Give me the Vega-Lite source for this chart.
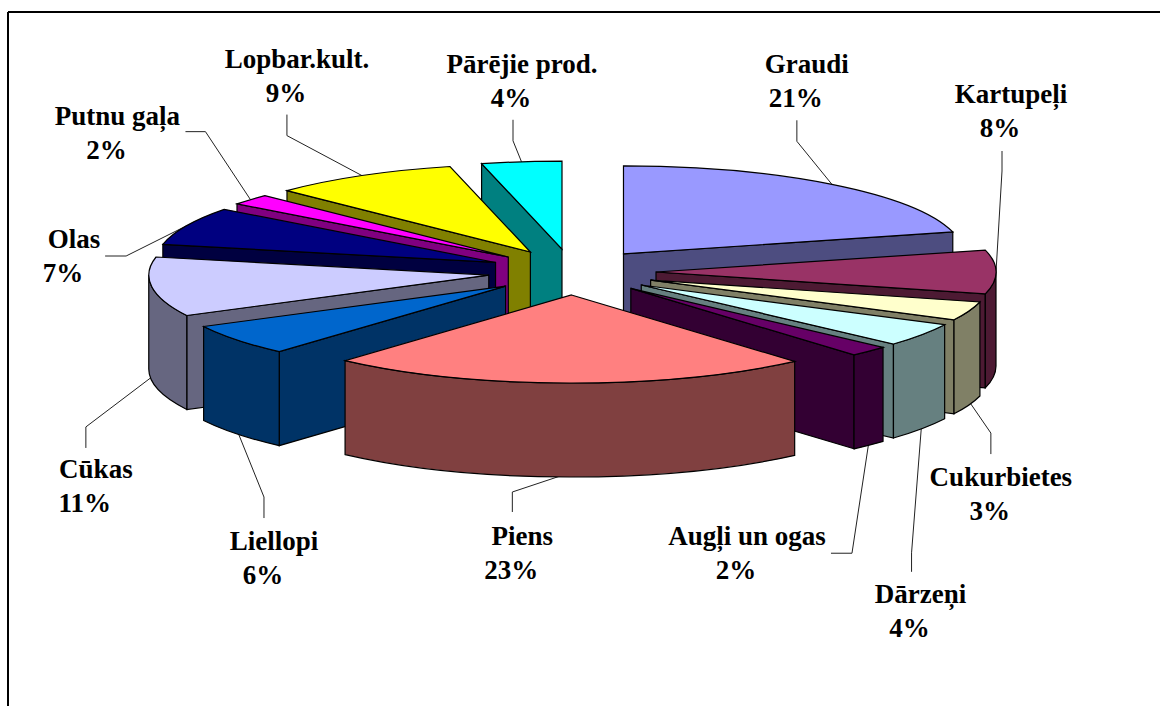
{
"$schema":"https://vega.github.io/schema/vega-lite/v6.json",
"width":1160,"height":706,"padding":0,"autosize":{"type":"none"},
"background":"white",
"view":{"stroke":null},
"data":{"values":[
{"name":"Graudi","value":21},
{"name":"Kartupeļi","value":8},
{"name":"Cukurbietes","value":3.45},
{"name":"Dārzeņi","value":4.25},
{"name":"Augļi un ogas","value":1.9},
{"name":"Piens","value":23},
{"name":"Liellopi","value":5.8},
{"name":"Cūkas","value":10.9},
{"name":"Olas","value":7},
{"name":"Putnu gaļa","value":2},
{"name":"Lopbar.kult.","value":8.9},
{"name":"Pārējie prod.","value":3.8}
]},
"transform":[
{"stack":"value","groupby":[],"as":["v0","v1"]},
{"calculate":"datum.v0/100*2*PI","as":"a0"},
{"calculate":"datum.v1/100*2*PI","as":"a1"},
{"calculate":"(datum.a0+datum.a1)/2","as":"mid"},
{"calculate":"max(datum.a0,PI/2)","as":"b0"},
{"calculate":"min(datum.a1,3*PI/2)","as":"b1"},
{"calculate":"572+84*sin(datum.mid)","as":"px"},
{"calculate":"272-23*cos(datum.mid)","as":"py"},
{"calculate":"round(3400*sin(datum.a0))/10","as":"sx0"},
{"calculate":"round(-880*cos(datum.a0))/10","as":"sy0"},
{"calculate":"round(3400*sin(datum.a1))/10","as":"sx1"},
{"calculate":"round(-880*cos(datum.a1))/10","as":"sy1"},
{"calculate":"round(3400*sin(datum.b0))/10","as":"bx0"},
{"calculate":"round(-880*cos(datum.b0))/10","as":"by0"},
{"calculate":"round(3400*sin(datum.b1))/10","as":"bx1"},
{"calculate":"round(-880*cos(datum.b1))/10","as":"by1"},
{"calculate":"'M0 0L'+datum.sx0+' '+datum.sy0+'A340 88 0 0 1 '+datum.sx1+' '+datum.sy1+'Z'","as":"pTop"},
{"calculate":"'M0 0L'+datum.sx0+' '+datum.sy0+'L'+datum.sx0+' '+(datum.sy0+94)+'L0 94Z'","as":"pRad0"},
{"calculate":"'M0 0L'+datum.sx1+' '+datum.sy1+'L'+datum.sx1+' '+(datum.sy1+94)+'L0 94Z'","as":"pRad1"},
{"calculate":"'M'+datum.bx0+' '+datum.by0+'A340 88 0 0 1 '+datum.bx1+' '+datum.by1+'L'+datum.bx1+' '+(datum.by1+94)+'A340 88 0 0 0 '+datum.bx0+' '+(datum.by0+94)+'Z'","as":"pBand"},
{"calculate":"572+424*sin(datum.mid)","as":"ax"},
{"calculate":"272-111*cos(datum.mid)+(cos(datum.mid)<-0.001?90:0)","as":"ay"},
{"calculate":"{'Graudi':[-35,-43,-35,-64,-25,-111],'Kartupeļi':[6,-101,6,-121,15,-169],'Cukurbietes':[22,32,22,53,32,85],'Dārzeņi':[-10,128,-10,147,-1,178],'Augļi un ogas':[-17,112,-38,112,-122,104],'Piens':[-57,19,-57,39,-47,72],'Liellopi':[27,67,27,88,37,120],'Cūkas':[-66,50,-66,71,-56,101],'Olas':[-60,30,-81,30,-112,22],'Putnu gaļa':[-45,-68,-65,-68,-133,-75],'Lopbar.kult.':[-75,-40,-75,-61,-65,-108],'Pārējie prod.':[-8.5,-21,-8.5,-42,0.5,-89]}[datum.name]","as":"lay"},
{"calculate":"datum.ax+datum.lay[0]","as":"ex"},
{"calculate":"datum.ay+datum.lay[1]","as":"ey"},
{"calculate":"datum.ax+datum.lay[2]","as":"tx"},
{"calculate":"datum.ay+datum.lay[3]","as":"ty"},
{"calculate":"datum.ax+datum.lay[4]","as":"lx"},
{"calculate":"datum.ay+datum.lay[5]","as":"ly"},
{"calculate":"datum.lx-11","as":"pctx"},
{"calculate":"datum.ly+34","as":"pcty"},
{"calculate":"round(datum.value)+'%'","as":"pct"}
],
"layer":[
{"mark":{"type":"rule","color":"black","strokeWidth":2},
 "data":{"values":[{"x":8,"y":12,"x2":8,"y2":706},{"x":8,"y":12,"x2":1160,"y2":12}]},
 "transform":[],
 "encoding":{"x":{"field":"x","type":"quantitative","scale":{"domain":[0,1160],"range":[0,1160],"nice":false,"zero":false},"axis":null},
 "y":{"field":"y","type":"quantitative","scale":{"domain":[0,706],"range":[0,706],"nice":false,"zero":false},"axis":null},
 "x2":{"field":"x2"},"y2":{"field":"y2"}}},
{"mark":{"type":"rule","color":"#222222","strokeWidth":1},
 "encoding":{"x":{"field":"ax","type":"quantitative","scale":{"domain":[0,1160],"range":[0,1160],"nice":false,"zero":false},"axis":null},"y":{"field":"ay","type":"quantitative","scale":{"domain":[0,706],"range":[0,706],"nice":false,"zero":false},"axis":null},"x2":{"field":"ex"},"y2":{"field":"ey"}}},
{"mark":{"type":"rule","color":"#222222","strokeWidth":1},
 "encoding":{"x":{"field":"ex","type":"quantitative","scale":{"domain":[0,1160],"range":[0,1160],"nice":false,"zero":false},"axis":null},"y":{"field":"ey","type":"quantitative","scale":{"domain":[0,706],"range":[0,706],"nice":false,"zero":false},"axis":null},"x2":{"field":"tx"},"y2":{"field":"ty"}}},
{"transform":[
 {"fold":["pRad0","pRad1","pBand","pTop"],"as":["part","path"]},
 {"filter":"datum.part=='pTop'||(datum.part=='pRad0'&&sin(datum.a0)<-0.001)||(datum.part=='pRad1'&&sin(datum.a1)>0.001)||(datum.part=='pBand'&&datum.b0<datum.b1)"},
 {"calculate":"datum.part=='pTop'?datum.name:datum.name+' wall'","as":"tone"},
 {"calculate":"-cos(datum.mid)*1000+(datum.part=='pTop'?1:0)","as":"z"}
 ],
 "mark":{"type":"point","filled":true,"opacity":1,"stroke":"black","strokeWidth":1.2,"size":4,"strokeJoin":"miter"},
 "encoding":{
 "x":{"field":"px","type":"quantitative","scale":{"domain":[0,1160],"range":[0,1160],"nice":false,"zero":false},"axis":null},
 "y":{"field":"py","type":"quantitative","scale":{"domain":[0,706],"range":[0,706],"nice":false,"zero":false},"axis":null},
 "shape":{"field":"path","type":"nominal","scale":null},
 "order":{"field":"z","type":"quantitative"},
 "color":{"field":"tone","type":"nominal","legend":null,"scale":{
 "domain":["Graudi","Graudi wall","Kartupeļi","Kartupeļi wall","Cukurbietes","Cukurbietes wall","Dārzeņi","Dārzeņi wall","Augļi un ogas","Augļi un ogas wall","Piens","Piens wall","Liellopi","Liellopi wall","Cūkas","Cūkas wall","Olas","Olas wall","Putnu gaļa","Putnu gaļa wall","Lopbar.kult.","Lopbar.kult. wall","Pārējie prod.","Pārējie prod. wall"],
 "range":["#9999FF","#4D4D80","#993366","#4D1A33","#FFFFCC","#808066","#CCFFFF","#668080","#660066","#330033","#FF8080","#804040","#0066CC","#003366","#CCCCFF","#666680","#000080","#000040","#FF00FF","#800080","#FFFF00","#808000","#00FFFF","#008080"]}}
 }},
{"mark":{"type":"text","fontSize":27,"fontWeight":"bold","font":"Liberation Serif","align":"center","baseline":"alphabetic","color":"black"},
 "encoding":{"x":{"field":"lx","type":"quantitative","scale":{"domain":[0,1160],"range":[0,1160],"nice":false,"zero":false},"axis":null},"y":{"field":"ly","type":"quantitative","scale":{"domain":[0,706],"range":[0,706],"nice":false,"zero":false},"axis":null},"text":{"field":"name"}}},
{"mark":{"type":"text","fontSize":27,"fontWeight":"bold","font":"Liberation Serif","align":"center","baseline":"alphabetic","color":"black"},
 "encoding":{"x":{"field":"pctx","type":"quantitative","scale":{"domain":[0,1160],"range":[0,1160],"nice":false,"zero":false},"axis":null},"y":{"field":"pcty","type":"quantitative","scale":{"domain":[0,706],"range":[0,706],"nice":false,"zero":false},"axis":null},"text":{"field":"pct"}}}
]
}
